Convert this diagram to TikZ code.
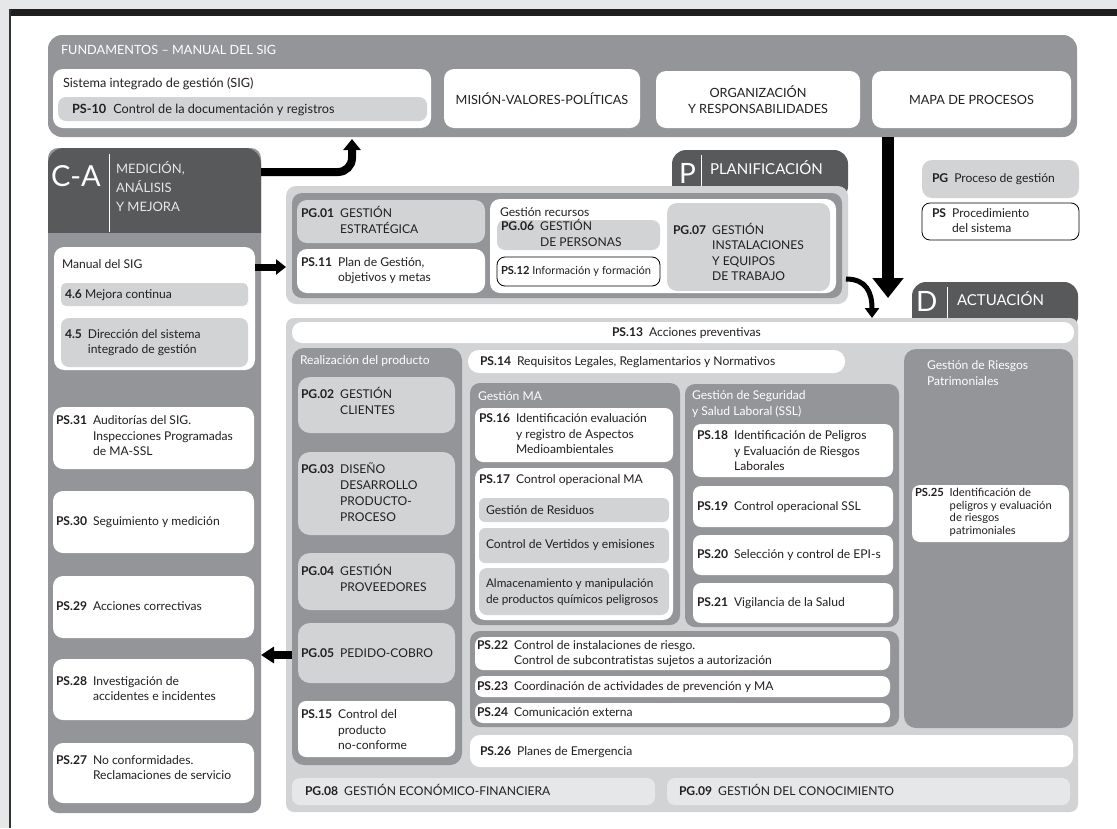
\documentclass[tikz,border=0pt]{standalone}
\usepackage{fontspec}
\setmainfont{Lato}
\usetikzlibrary{arrows.meta}
\definecolor{dk}{HTML}{58595B}
\definecolor{md}{HTML}{939598}
\definecolor{lt}{HTML}{D1D3D4}
\definecolor{vl}{HTML}{E6E7E8}
\definecolor{ink}{HTML}{231F20}
\newcommand\nf{\fontsize{12.1}{15.5}\selectfont}
\newcommand\ff{\fontsize{12.7}{15.5}\selectfont}
\newcommand\cd[2]{\begin{tabular}[c]{@{}l@{\hspace{6pt}}l@{}}\textbf{#1}&#2\end{tabular}}
\newcommand\bx[6]{\node[bxs,#1,minimum width={(#5-#3)*1pt},minimum height={(#6-#4)*1pt}] (#2) at (#3,#4) {};}
\begin{document}
\begin{tikzpicture}[x=1pt,y=-1pt,
  bxs/.style={anchor=north west,inner sep=0pt,outer sep=0pt},
  txt/.style={anchor=west,inner sep=0pt,outer sep=0pt,align=left,text=ink,font=\nf},
  wt/.style={txt,text=white,font=\nf},
  medt/.style={anchor=base west,inner sep=0pt,outer sep=0pt,text=vl,font=\fontsize{13}{16}\selectfont},
  big/.style={txt,text=white,font=\fontsize{28}{28}\selectfont},
  tabt/.style={txt,text=white,font=\fontsize{15}{17}\selectfont},
  arrA/.style={draw=black,line width=8pt,-{Triangle[width=17pt,length=11pt]}},
  arrB/.style={draw=black,line width=12pt,-{Triangle[width=30pt,length=20pt]}},
  arrC/.style={draw=black,line width=5pt,-{Triangle[width=14pt,length=10pt]}}]
\useasboundingbox (0,0) rectangle (1117,828);
% page frame
\fill[vl] (0,0) rectangle (1117,828);
\fill[white] (10,9) rectangle (1117,828);
\fill[black!88] (10,9) rectangle (1117,16);
\draw[black!80,line width=1.5pt] (10,9) -- (10,828);

% ---------- FUNDAMENTOS ----------
\bx{fill=md,rounded corners=14pt}{fund}{48}{35}{1077}{137}
\node[wt,font=\ff] (t-fund) at (61,50) {FUNDAMENTOS – MANUAL DEL SIG};
\bx{fill=white,rounded corners=10pt}{sig}{53}{69}{431}{128}
\node[txt,font=\ff] (t-sig) at (63,84) {Sistema integrado de gestión (SIG)};
\bx{fill=lt,rounded corners=8pt}{ps10}{58}{97}{427}{121}
\node[txt,font=\ff] (t-ps10) at (72,110) {\textbf{PS-10}\hspace{7pt}Control de la documentación y registros};
\bx{fill=white,rounded corners=10pt}{mision}{444}{69}{640}{128}
\node[txt,font=\ff,anchor=center] (t-mision) at (mision.center) {MISIÓN-VALORES-POLÍTICAS};
\bx{fill=white,rounded corners=10pt}{org}{656}{71}{860}{128}
\node[txt,font=\ff,anchor=center,align=center] (t-org) at (org.center) {ORGANIZACIÓN\\Y RESPONSABILIDADES};
\bx{fill=white,rounded corners=10pt}{mapa}{872}{71}{1071}{128}
\node[txt,font=\ff,anchor=center] (t-mapa) at (mapa.center) {MAPA DE PROCESOS};

% ---------- C-A ----------
\bx{fill=md,rounded corners=10pt}{ca}{48}{148}{261}{813}
\begin{scope}
\clip (48,148) rectangle (261,232);
\bx{fill=dk,rounded corners=16pt}{cahead}{48}{148}{261}{260}
\end{scope}
\node[big,font=\fontsize{29}{29}\selectfont] (t-ca) at (51,176) {C-A};
\draw[white,line width=0.8pt] (109,154) -- (109,232);
\node[medt] (t-med1) at (116,173) {MEDICIÓN,};
\node[medt] (t-med2) at (116,192) {ANÁLISIS};
\node[medt] (t-med3) at (116,211) {Y MEJORA};
\bx{fill=white,rounded corners=10pt}{manual}{54}{247}{255}{370}
\node[txt] (t-manual) at (62,264) {Manual del SIG};
\bx{fill=lt,rounded corners=5pt}{m46}{61}{283}{248}{306}
\node[txt] (t-46) at (65,295) {\textbf{4.6} Mejora continua};
\bx{fill=lt,rounded corners=8pt}{m45}{61}{318}{248}{367}
\node[txt] (t-45) at (65,343) {\cd{4.5}{Dirección del sistema\\&integrado de gestión}};
\bx{fill=white,rounded corners=10pt}{ps31}{53}{407}{254}{469}
\node[txt] (t-ps31) at (56,437) {\cd{PS.31}{Auditorías del SIG.\\&Inspecciones Programadas\\&de MA-SSL}};
\bx{fill=white,rounded corners=10pt}{ps30}{53}{491}{254}{553}
\node[txt] (t-ps30) at (56,522) {\cd{PS.30}{Seguimiento y medición}};
\bx{fill=white,rounded corners=10pt}{ps29}{53}{576}{254}{638}
\node[txt] (t-ps29) at (56,607) {\cd{PS.29}{Acciones correctivas}};
\bx{fill=white,rounded corners=10pt}{ps28}{53}{659}{254}{720}
\node[txt] (t-ps28) at (56,690) {\cd{PS.28}{Investigación de\\&accidentes e incidentes}};
\bx{fill=white,rounded corners=10pt}{ps27}{53}{743}{254}{803}
\node[txt] (t-ps27) at (56,769) {\cd{PS.27}{No conformidades.\\&Reclamaciones de servicio}};

% ---------- P ----------
\bx{fill=dk,rounded corners=14pt}{ptab}{672}{150}{848}{200}
\node[big] (t-p) at (679,173) {P};
\draw[white,line width=0.8pt] (701,155) -- (701,190);
\node[tabt] (t-plan) at (710,168) {PLANIFICACIÓN};
\bx{fill=lt,rounded corners=10pt}{pout}{286}{186}{848}{304}
\bx{fill=md,rounded corners=10pt}{pin}{292}{193}{842}{298}
\bx{fill=lt,rounded corners=10pt}{pg01}{297}{200}{485}{243}
\node[txt] (t-pg01) at (301,222) {\cd{PG.01}{GESTIÓN\\&ESTRATÉGICA}};
\bx{fill=white,rounded corners=10pt}{ps11}{297}{249}{485}{293}
\node[txt] (t-ps11) at (301,271) {\cd{PS.11}{Plan de Gestión,\\&objetivos y metas}};
\bx{fill=white,rounded corners=10pt}{recur}{490}{199}{836}{293}
\node[txt] (t-recur) at (500,212) {Gestión recursos};
\bx{fill=lt,rounded corners=8pt}{pg06}{497}{220}{660}{250}
\node[txt] (t-pg06) at (501,235) {\cd{PG.06}{GESTIÓN\\&DE PERSONAS}};
\bx{fill=white,draw=black,line width=0.8pt,rounded corners=8pt}{ps12}{497}{257}{660}{286}
\node[txt,font=\fontsize{11.1}{12}\selectfont] (t-ps12) at (501,271) {\textbf{PS.12} Información y formación};
\bx{fill=lt,rounded corners=10pt}{pg07}{667}{203}{830}{291}
\node[txt] (t-pg07) at (673,254) {\cd{PG.07}{GESTIÓN\\&INSTALACIONES\\&Y EQUIPOS\\&DE TRABAJO}};

% ---------- legend ----------
\bx{fill=lt,rounded corners=10pt}{legpg}{922}{160}{1079}{198}
\node[txt] (t-legpg) at (932,179) {\textbf{PG}\hspace{6pt}Proceso de gestión};
\bx{fill=white,draw=black,line width=0.8pt,rounded corners=8pt}{legps}{922}{203}{1079}{240}
\node[txt] (t-legps) at (932,222) {\cd{PS}{Procedimiento\\&del sistema}};

% ---------- D ----------
\bx{fill=dk,rounded corners=14pt}{dtab}{912}{282}{1078}{330}
\node[big] (t-d) at (916,301) {D};
\draw[white,line width=0.8pt] (947,287) -- (947,318);
\node[tabt] (t-act) at (957,299) {ACTUACIÓN};
\bx{fill=lt,rounded corners=8pt}{darea}{286}{318}{1078}{812}
\bx{fill=white,rounded corners=10pt}{ps13}{292}{322}{1074}{343}
\node[txt] (t-ps13) at (612,333) {\textbf{PS.13}\hspace{6pt}Acciones preventivas};

\bx{fill=md,rounded corners=12pt}{real}{292}{348}{462}{765}
\node[wt] (t-real) at (300,361) {Realización del producto};
\bx{fill=lt,rounded corners=12pt}{pg02}{298}{377}{455}{433}
\node[txt] (t-pg02) at (301,403) {\cd{PG.02}{GESTIÓN\\&CLIENTES}};
\bx{fill=lt,rounded corners=12pt}{pg03}{298}{452}{455}{535}
\node[txt,font=\fontsize{12.1}{16}\selectfont] (t-pg03) at (301,494) {\cd{PG.03}{DISEÑO\\&DESARROLLO\\&PRODUCTO-\\&PROCESO}};
\bx{fill=lt,rounded corners=12pt}{pg04}{298}{553}{455}{610}
\node[txt] (t-pg04) at (301,580) {\cd{PG.04}{GESTIÓN\\&PROVEEDORES}};
\bx{fill=lt,rounded corners=12pt}{pg05}{298}{623}{455}{683}
\node[txt] (t-pg05) at (301,654) {\cd{PG.05}{PEDIDO-COBRO}};
\bx{fill=white,rounded corners=8pt}{ps15}{298}{701}{455}{757}
\node[txt] (t-ps15) at (301,731) {\cd{PS.15}{Control del\\&producto\\&no-conforme}};

\bx{fill=white,rounded corners=11pt}{ps14}{468}{350}{845}{373}
\node[txt] (t-ps14) at (480,362) {\textbf{PS.14}\hspace{6pt}Requisitos Legales, Reglamentarios y Normativos};

\bx{fill=md,rounded corners=10pt}{gma}{470}{383}{680}{625}
\node[wt] (t-gma) at (478,396) {Gestión MA};
\bx{fill=white,rounded corners=8pt}{ps16}{475}{408}{673}{462}
\node[txt] (t-ps16) at (479,435) {\cd{PS.16}{Identificación evaluación\\&y registro de Aspectos\\&Medioambientales}};
\bx{fill=white,rounded corners=10pt}{ps17}{475}{468}{673}{620}
\node[txt] (t-ps17) at (479,480) {\textbf{PS.17}\hspace{6pt}Control operacional MA};
\bx{fill=lt,rounded corners=6pt}{resid}{479}{498}{669}{522}
\node[txt] (t-resid) at (486,510) {Gestión de Residuos};
\bx{fill=lt,rounded corners=6pt}{vert}{479}{528}{669}{563}
\node[txt] (t-vert) at (486,545) {Control de Vertidos y emisiones};
\bx{fill=lt,rounded corners=8pt}{almac}{479}{568}{669}{615}
\node[txt,font=\fontsize{11.8}{16}\selectfont] (t-almac) at (486,592) {Almacenamiento y manipulación\\de productos químicos peligrosos};

\bx{fill=md,rounded corners=10pt}{ssl}{685}{384}{899}{627}
\node[wt] (t-ssl) at (692,404) {Gestión de Seguridad\\y Salud Laboral (SSL)};
\bx{fill=white,rounded corners=8pt}{ps18}{693}{424}{893}{477}
\node[txt] (t-ps18) at (697,452) {\cd{PS.18}{Identificación de Peligros\\&y Evaluación de Riesgos\\&Laborales}};
\bx{fill=white,rounded corners=8pt}{ps19}{693}{486}{893}{527}
\node[txt] (t-ps19) at (697,507) {\cd{PS.19}{Control operacional SSL}};
\bx{fill=white,rounded corners=8pt}{ps20}{693}{535}{893}{575}
\node[txt] (t-ps20) at (697,555) {\cd{PS.20}{Selección y control de EPI-s}};
\bx{fill=white,rounded corners=8pt}{ps21}{693}{583}{893}{623}
\node[txt] (t-ps21) at (697,603) {\cd{PS.21}{Vigilancia de la Salud}};

\bx{fill=md,rounded corners=12pt}{rpat}{904}{349}{1073}{728}
\node[wt] (t-rpat) at (927,373) {Gestión de Riesgos\\Patrimoniales};
\bx{fill=white,rounded corners=8pt}{ps25}{912}{485}{1069}{542}
\node[txt,font=\fontsize{11.2}{12.5}\selectfont] (t-ps25) at (915,513) {\cd{PS.25}{Identificación de\\&peligros y evaluación\\&de riesgos\\&patrimoniales}};

\bx{fill=md,rounded corners=10pt}{bgrp}{470}{631}{899}{727}
\bx{fill=white,rounded corners=8pt}{ps22}{475}{637}{890}{670}
\node[txt] (t-ps22) at (477,654) {\cd{PS.22}{Control de instalaciones de riesgo.\\&Control de subcontratistas sujetos a autorización}};
\bx{fill=white,rounded corners=8pt}{ps23}{475}{676}{890}{697}
\node[txt] (t-ps23) at (477,687) {\cd{PS.23}{Coordinación de actividades de prevención y MA}};
\bx{fill=white,rounded corners=8pt}{ps24}{475}{703}{890}{723}
\node[txt] (t-ps24) at (477,713) {\cd{PS.24}{Comunicación externa}};

\bx{fill=white,rounded corners=10pt}{ps26}{470}{735}{1073}{767}
\node[txt] (t-ps26) at (480,752) {\cd{PS.26}{Planes de Emergencia}};
\bx{fill=vl,rounded corners=8pt}{pg08}{292}{778}{655}{805}
\node[txt] (t-pg08) at (305,792) {\cd{PG.08}{GESTIÓN ECONÓMICO-FINANCIERA}};
\bx{fill=vl,rounded corners=8pt}{pg09}{667}{778}{1070}{805}
\node[txt] (t-pg09) at (679,792) {\cd{PG.09}{GESTIÓN DEL CONOCIMIENTO}};

% ---------- arrows ----------
\coordinate (caout) at (261,172);
\coordinate (fundin) at (352,139);
\draw[arrA,rounded corners=14pt] (caout) -| (fundin);
\draw[arrA,line width=7pt,-{Triangle[width=15pt,length=10pt]}] (manual.east |- 0,267) -- (pout.west |- 0,267);
\coordinate (vtop) at (888,137);
\coordinate (vbot) at (888,298);
\draw[arrB] (vtop) -- (vbot);
\coordinate (pcurv) at (846,279);
\coordinate (din) at (872,318);
\draw[arrC] (pcurv) .. controls (866,279) and (872,292) .. (din);
\draw[arrA,-{Triangle[width=16pt,length=13pt]}] (real.west |- 0,655) -- (ca.east |- 0,655);
\end{tikzpicture}
\end{document}
